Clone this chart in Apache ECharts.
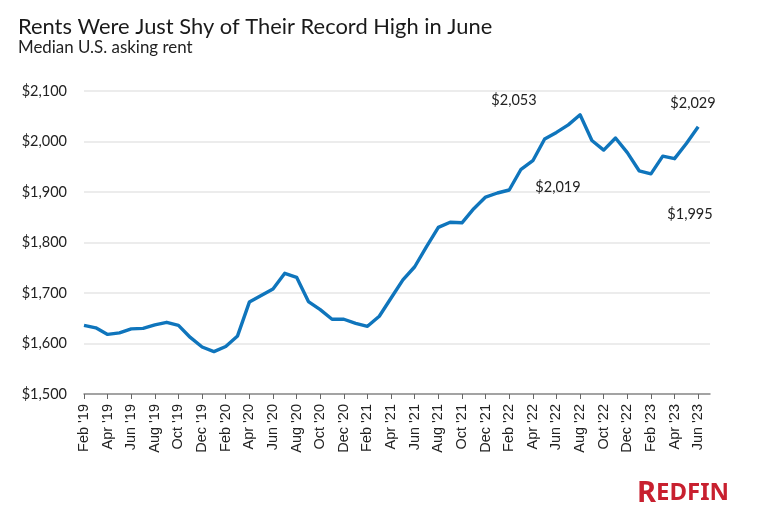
<!DOCTYPE html>
<html>
<head>
<meta charset="utf-8">
<style>
  html, body { margin: 0; padding: 0; background: #fff; }
  #main { width: 760px; height: 521px; }
</style>
<script src="https://cdn.jsdelivr.net/npm/echarts@6/dist/echarts.min.js"></script>
</head>
<body>
<div id="main"></div>
<script>
// months, the last empty one only stretches the axis past Jun '23
const months = [
  "Feb '19", "Mar '19", "Apr '19", "May '19", "Jun '19", "Jul '19", "Aug '19", "Sep '19", "Oct '19", "Nov '19", "Dec '19",
  "Jan '20", "Feb '20", "Mar '20", "Apr '20", "May '20", "Jun '20", "Jul '20", "Aug '20", "Sep '20", "Oct '20", "Nov '20", "Dec '20",
  "Jan '21", "Feb '21", "Mar '21", "Apr '21", "May '21", "Jun '21", "Jul '21", "Aug '21", "Sep '21", "Oct '21", "Nov '21", "Dec '21",
  "Jan '22", "Feb '22", "Mar '22", "Apr '22", "May '22", "Jun '22", "Jul '22", "Aug '22", "Sep '22", "Oct '22", "Nov '22", "Dec '22",
  "Jan '23", "Feb '23", "Mar '23", "Apr '23", "May '23", "Jun '23", ""
];

const rent = [
  1636, 1631, 1618, 1621, 1629, 1630, 1637, 1642, 1636, 1612, 1593,
  1584, 1594, 1615, 1682, 1695, 1708, 1739, 1731, 1683, 1667, 1648, 1648,
  1640, 1634, 1654, 1690, 1726, 1752, 1792, 1830, 1840, 1839, 1867, 1890,
  1898, 1904, 1945, 1962, 2005, 2018, 2033, 2053, 2002, 1983, 2007, 1978,
  1942, 1936, 1971, 1966, 1996, 2029, null
];

const annotations = ['$2,053', '$2,019', '$2,029', '$1,995'];

const chart = echarts.init(document.getElementById('main'));

function note(text, x, y) {
  return {
    type: 'text',
    x: x,
    y: y,
    z: 100,
    style: { text: text, fontFamily: 'Lato', fontSize: 14.5, fill: '#222', align: 'center', verticalAlign: 'middle' }
  };
}

chart.setOption({
  animation: false,
  backgroundColor: '#fff',
  title: {
    text: 'Rents Were Just Shy of Their Record High in June',
    subtext: 'Median U.S. asking rent',
    left: 13,
    top: 11,
    itemGap: 1,
    textStyle: { fontFamily: 'Lato', fontSize: 21.9, fontWeight: 'normal', color: '#1a1a1a' },
    subtextStyle: { fontFamily: 'Lato', fontSize: 16.9, color: '#222' }
  },
  grid: { left: 84, right: 50, top: 91, bottom: 127 },
  xAxis: {
    type: 'category',
    boundaryGap: false,
    data: months,
    axisLine: { lineStyle: { color: '#8a8a8a', width: 1.5 } },
    axisTick: { interval: 1, length: 5, lineStyle: { color: '#666', width: 1 } },
    axisLabel: {
      interval: 1,
      rotate: 90,
      margin: 10,
      fontFamily: 'Liberation Sans',
      fontSize: 14.5,
      color: '#222'
    }
  },
  yAxis: {
    type: 'value',
    min: 1500,
    max: 2100,
    interval: 100,
    axisLine: { show: false },
    axisTick: { show: false },
    axisLabel: {
      margin: 17,
      fontFamily: 'Lato',
      fontSize: 14.5,
      color: '#222',
      formatter: (v) => '$' + v.toLocaleString('en-US')
    },
    splitLine: { lineStyle: { color: '#e6e6e6', width: 1.5 } }
  },
  series: [{
    type: 'line',
    data: rent,
    showSymbol: false,
    smooth: false,
    lineStyle: { color: '#0f75bc', width: 3.4, join: 'round' }
  }],
  graphic: [
    note(annotations[0], 514, 100),
    note(annotations[1], 558, 187),
    note(annotations[2], 693, 103),
    note(annotations[3], 690, 214),
    {
      type: 'text',
      x: 637,
      y: 479,
      style: {
        text: '{a|R}{b|EDFIN}',
        rich: {
          a: { fontFamily: 'Noto Sans', fontWeight: 'bold', fontSize: 29, fill: '#c8202f' },
          b: { fontFamily: 'Noto Sans', fontWeight: 'bold', fontSize: 24, fill: '#c8202f' }
        }
      }
    }
  ]
});
</script>
</body>
</html>
